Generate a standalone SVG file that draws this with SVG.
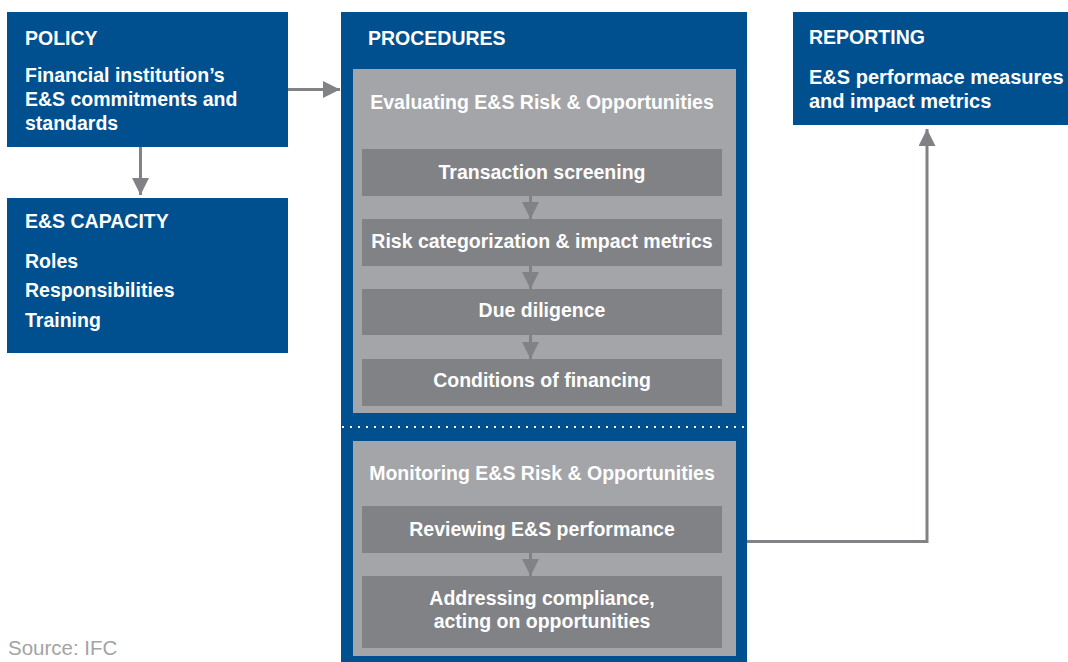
<svg xmlns="http://www.w3.org/2000/svg" width="1068" height="662" viewBox="0 0 1068 662">
<defs>
<style>
.blue{fill:#00508F}
.panel{fill:#A4A5A9}
.step{fill:#818286}
.t{font-family:"Liberation Sans",Arial,sans-serif;font-weight:bold;font-size:19.5px;fill:#FFFFFF}
.c{text-anchor:middle}
.w{font-size:20px}
.src{font-family:"Liberation Sans",Arial,sans-serif;font-size:20.5px;fill:#A3A3A3}
.conn{fill:none;stroke:#818286;stroke-width:3}
</style>
<marker id="ah" markerUnits="userSpaceOnUse" markerWidth="17" markerHeight="17" refX="17" refY="8.5" orient="auto">
<path d="M0,0 L17,8.5 L0,17 z" fill="#818286"/>
</marker>
</defs>
<rect width="1068" height="662" fill="#FFFFFF"/>

<g id="policy">
<rect class="blue" x="7" y="12" width="281" height="135"/>
<text class="t" x="25" y="45">POLICY</text>
<text class="t" x="25" y="82">Financial institution’s</text>
<text class="t" x="25" y="106">E&amp;S commitments and</text>
<text class="t" x="25" y="130">standards</text>
</g>

<g id="capacity">
<rect class="blue" x="7" y="198" width="281" height="155"/>
<text class="t" x="25" y="228">E&amp;S CAPACITY</text>
<text class="t" x="25" y="268">Roles</text>
<text class="t" x="25" y="297">Responsibilities</text>
<text class="t" x="25" y="327">Training</text>
</g>

<g id="procedures">
<rect class="blue" x="341" y="12" width="406" height="650"/>
<text class="t" x="368" y="45">PROCEDURES</text>
<rect class="panel" x="353" y="69" width="383" height="344"/>
<line x1="342" y1="427" x2="747" y2="427" stroke="#FFFFFF" stroke-width="2" stroke-dasharray="2 6"/>
<rect class="panel" x="353" y="441" width="383" height="215"/>
</g>

<g id="evaluating">
<text class="t c" x="542" y="109">Evaluating E&amp;S Risk &amp; Opportunities</text>
</g>
<g id="screening">
<rect class="step" x="362" y="149" width="360" height="47"/>
<text class="t c" x="542" y="179">Transaction screening</text>
</g>
<g id="categorization">
<rect class="step" x="362" y="219" width="360" height="47"/>
<text class="t c" x="542" y="248">Risk categorization &amp; impact metrics</text>
</g>
<g id="diligence">
<rect class="step" x="362" y="289" width="360" height="46"/>
<text class="t c" x="542" y="317">Due diligence</text>
</g>
<g id="conditions">
<rect class="step" x="362" y="359" width="360" height="47"/>
<text class="t c" x="542" y="387">Conditions of financing</text>
</g>
<g id="monitoring">
<text class="t c" x="542" y="480">Monitoring E&amp;S Risk &amp; Opportunities</text>
</g>
<g id="reviewing">
<rect class="step" x="362" y="506" width="360" height="47"/>
<text class="t c" x="542" y="536">Reviewing E&amp;S performance</text>
</g>
<g id="addressing">
<rect class="step" x="362" y="576" width="360" height="72"/>
<text class="t c" x="542" y="605">Addressing compliance,</text>
<text class="t c" x="542" y="628">acting on opportunities</text>
</g>

<g id="reporting">
<rect class="blue" x="793" y="12" width="275" height="113"/>
<text class="t" x="809" y="44">REPORTING</text>
<text class="t w" x="809" y="84">E&amp;S performace measures</text>
<text class="t w" x="809" y="108">and impact metrics</text>
</g>

<g id="connectors">
<path class="conn" d="M288,89.5 H340" marker-end="url(#ah)"/>
<path class="conn" d="M140.5,147 V195" marker-end="url(#ah)"/>
<path class="conn" d="M530.5,196 V219" marker-end="url(#ah)"/>
<path class="conn" d="M530.5,266 V289" marker-end="url(#ah)"/>
<path class="conn" d="M530.5,335 V359" marker-end="url(#ah)"/>
<path class="conn" d="M530.5,553 V576" marker-end="url(#ah)"/>
<path class="conn" d="M747,541.5 H927 V129" marker-end="url(#ah)"/>
</g>

<text class="src" x="8" y="655">Source: IFC</text>
</svg>
